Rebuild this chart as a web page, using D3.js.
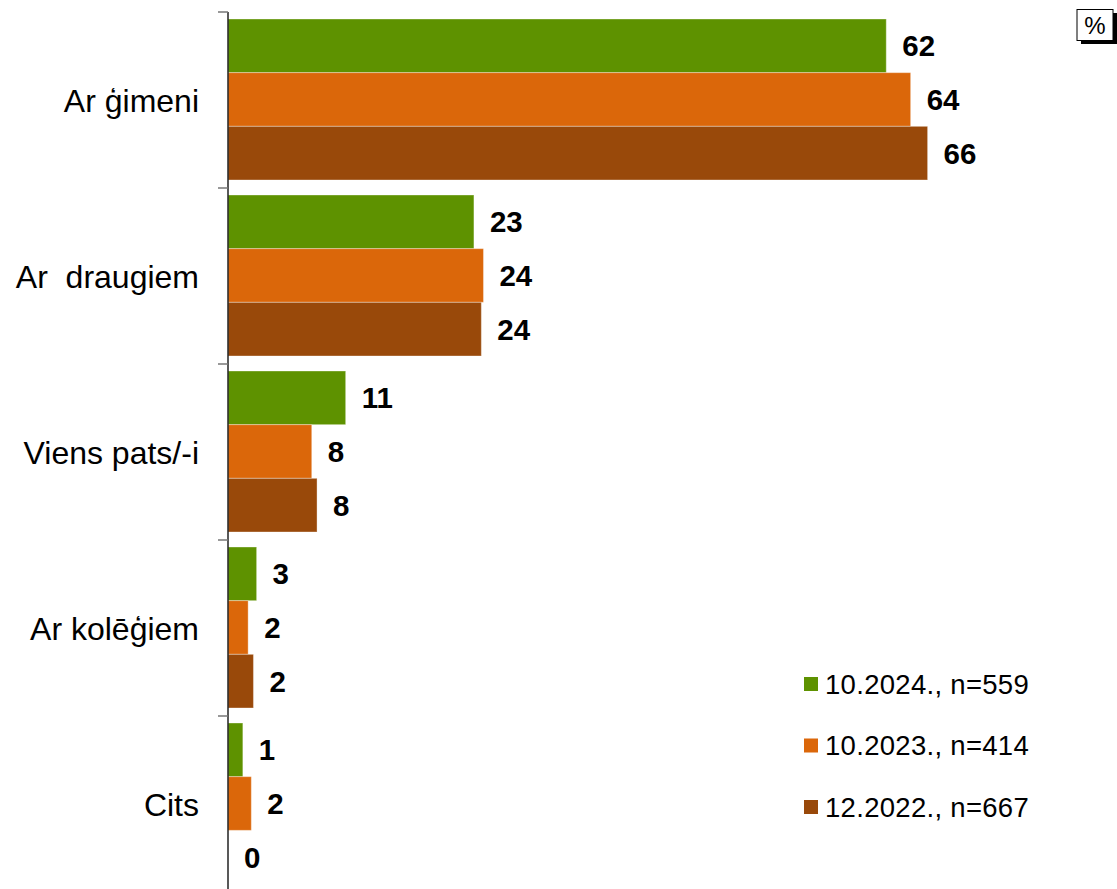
<!DOCTYPE html>
<html>
<head>
<meta charset="utf-8">
<script src="https://cdn.jsdelivr.net/npm/d3@7"></script>
<style>
  body { margin: 0; background: #fff; }
  text { font-family: Arial, "Liberation Sans", sans-serif; }
</style>
</head>
<body>
<div class="center"></div>
<script>
// Data
var categories = ["Ar ģimeni", "Ar  draugiem", "Viens pats/-i", "Ar kolēģiem", "Cits"];
var seriesNames = ["10.2024., n=559", "10.2023., n=414", "12.2022., n=667"];
var values2024 = [62.1, 23.2, 11.1, 2.7, 1.4];
var values2023 = [64.4, 24.1, 7.9, 1.9, 2.2];
var values2022 = [66.0, 23.9, 8.4, 2.4, 0];
var colors = ["#5e9200", "#db670a", "#99490a"];

var width = 1117, height = 889;

// build rows for the grouped bars
var data = categories.map(function(c, i) {
    return { cat: c, vals: [values2024[i], values2023[i], values2022[i]] };
});

var svg = d3.select("div.center").append("svg")
    .attr("width", width)
    .attr("height", height);

// scales
var x = d3.scaleLinear().domain([0, 100]).range([228, 228 + 1060]);
var y = d3.scaleBand().domain(categories).range([12, 892]).padding(0);
var y1 = d3.scaleBand().domain(d3.range(seriesNames.length)).range([7, y.bandwidth() - 8]);

// groups per category
var groups = svg.selectAll("g.cat")
    .data(data)
    .enter().append("g")
    .attr("class", "cat")
    .attr("transform", function(d) { return "translate(0," + y(d.cat) + ")"; });

var bars = groups.selectAll("g.bar")
    .data(function(d) { return d.vals.map(function(v, j) { return { v: v, s: j }; }); })
    .enter().append("g")
    .attr("class", "bar");

bars.append("rect")
    .attr("x", x(0))
    .attr("y", function(d) { return y1(d.s); })
    .attr("width", function(d) { return x(d.v) - x(0); })
    .attr("height", y1.bandwidth())
    .attr("fill", function(d) { return colors[d.s]; })
    .attr("stroke", "rgba(255,255,255,0.35)")
    .attr("stroke-width", 1);

// value labels
bars.append("text")
    .attr("x", function(d) { return x(d.v) + 16; })
    .attr("y", function(d) { return y1(d.s) + y1.bandwidth() / 2; })
    .attr("dy", "0.36em")
    .attr("font-size", 29.5)
    .attr("font-weight", "bold")
    .attr("fill", "#000")
    .text(function(d) { return d3.format(".0f")(d.v); });

// category labels
svg.selectAll("text.catlabel")
    .data(categories)
    .enter().append("text")
    .attr("class", "catlabel")
    .attr("x", 199)
    .attr("y", function(d) { return y(d) + y.bandwidth() / 2; })
    .attr("dy", "0.36em")
    .attr("text-anchor", "end")
    .attr("font-size", 32)
    .attr("fill", "#000")
    .style("white-space", "pre")
    .text(function(d) { return d; });

// category axis line and ticks at band edges
svg.append("line")
    .attr("x1", x(0)).attr("x2", x(0))
    .attr("y1", y.range()[0]).attr("y2", height)
    .attr("stroke", "#222")
    .attr("stroke-width", 1.5);

svg.selectAll("line.tick")
    .data(categories)
    .enter().append("line")
    .attr("class", "tick")
    .attr("x1", x(0) - 10).attr("x2", x(0))
    .attr("y1", function(d) { return y(d); })
    .attr("y2", function(d) { return y(d); })
    .attr("stroke", "#777")
    .attr("stroke-width", 1.5);

// legend
var legend = svg.selectAll("g.legend")
    .data(seriesNames)
    .enter().append("g")
    .attr("class", "legend")
    .attr("transform", function(d, i) { return "translate(804," + (684 + i * 61.5) + ")"; });

legend.append("rect")
    .attr("x", 0).attr("y", -7)
    .attr("width", 14).attr("height", 14)
    .attr("fill", function(d, i) { return colors[i]; });

legend.append("text")
    .attr("x", 21)
    .attr("y", 0)
    .attr("dy", "0.36em")
    .attr("font-size", 27.5)
    .attr("letter-spacing", 0.3)
    .attr("fill", "#000")
    .text(function(d) { return d; });

// "%" box with shadow
svg.append("rect")
    .attr("x", 1081).attr("y", 13)
    .attr("width", 36).attr("height", 31)
    .attr("fill", "#000");
svg.append("rect")
    .attr("x", 1077).attr("y", 9.5)
    .attr("width", 36).attr("height", 31)
    .attr("fill", "#fff")
    .attr("stroke", "#000")
    .attr("stroke-width", 1);
svg.append("text")
    .attr("x", 1095).attr("y", 25)
    .attr("dy", "0.36em")
    .attr("text-anchor", "middle")
    .attr("font-size", 24)
    .text("%");
</script>
</body>
</html>
